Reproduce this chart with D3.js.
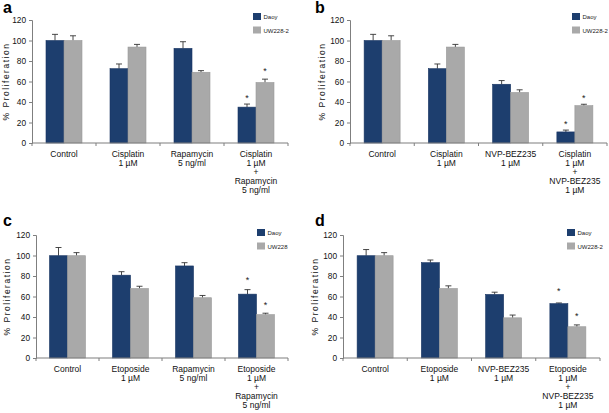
<!DOCTYPE html>
<html><head><meta charset="utf-8">
<script src="https://cdn.jsdelivr.net/npm/d3@7"></script>
<style>body{margin:0;background:#fff}svg{display:block;font-family:"Liberation Sans",Arial,sans-serif}</style>
</head><body><svg id="c" width="609" height="413"></svg>
<script>
// ---- data ----
const yTicks = [0, 20, 40, 60, 80, 100, 120];
const catsA = [["Control"], ["Cisplatin", "1 µM"], ["Rapamycin", "5 ng/ml"], ["Cisplatin", "1 µM", "+", "Rapamycin", "5 ng/ml"]];
const catsB = [["Control"], ["Cisplatin", "1 µM"], ["NVP-BEZ235", "1 µM"], ["Cisplatin", "1 µM", "+", "NVP-BEZ235", "1 µM"]];
const catsC = [["Control"], ["Etoposide", "1 µM"], ["Rapamycin", "5 ng/ml"], ["Etoposide", "1 µM", "+", "Rapamycin", "5 ng/ml"]];
const catsD = [["Control"], ["Etoposide", "1 µM"], ["NVP-BEZ235", "1 µM"], ["Etoposide", "1 µM", "+", "NVP-BEZ235", "1 µM"]];

const daoyA = [100, 72.5, 92.3, 35];     const daoyErrA = [6, 4.6, 6.5, 3];
const uwA   = [100, 93.6, 69, 59];       const uwErrA   = [4.6, 2.6, 1.6, 3.3];
const daoyB = [100, 72.5, 57.3, 10.8];   const daoyErrB = [6, 4.6, 3.6, 1.8];
const uwB   = [100, 93.6, 49.3, 36.4];   const uwErrB   = [4.6, 2.6, 2.6, 1.4];
const daoyC = [99.8, 80.8, 89.8, 62.3];  const daoyErrC = [8, 3.4, 3.2, 4.4];
const uwC   = [99.8, 67.8, 58.8, 42.3];  const uwErrC   = [3, 2.2, 2.2, 1.4];
const daoyD = [99.8, 93, 62, 53];        const daoyErrD = [6, 2.6, 2.2, 0.7];
const uwD   = [99.8, 67.8, 39.2, 30.5];  const uwErrD   = [3, 2.6, 2.7, 1.8];

const starsA = [[3, "daoy", 45], [3, "uw", 71]];
const starsB = [[3, "daoy", 20], [3, "uw", 45]];
const starsC = [[3, "daoy", 77], [3, "uw", 53]];
const starsD = [[3, "daoy", 66], [3, "uw", 42]];

const seriesNamesABD = ["Daoy", "UW228-2"];
const seriesNamesC = ["Daoy", "UW228"];

const COL_DAOY = "#1d3e6e", COL_UW = "#a9a9a9", AXIS = "#7f7f7f";

const panels = [
  {letter: "a", cats: catsA, daoy: daoyA, de: daoyErrA, uw: uwA, ue: uwErrA, stars: starsA, names: seriesNamesABD,
   x0: 32, x1: 288, yTop: 20, yBot: 143, lx: 253, ly: 13, px: 3, py: 13, titleX: 6},
  {letter: "b", cats: catsB, daoy: daoyB, de: daoyErrB, uw: uwB, ue: uwErrB, stars: starsB, names: seriesNamesABD,
   x0: 350, x1: 607, yTop: 20, yBot: 143, lx: 572, ly: 13, px: 315, py: 13, titleX: 322},
  {letter: "c", cats: catsC, daoy: daoyC, de: daoyErrC, uw: uwC, ue: uwErrC, stars: starsC, names: seriesNamesC,
   x0: 36, x1: 288, yTop: 235, yBot: 358, lx: 257, ly: 229, px: 3, py: 226, titleX: 7},
  {letter: "d", cats: catsD, daoy: daoyD, de: daoyErrD, uw: uwD, ue: uwErrD, stars: starsD, names: seriesNamesABD,
   x0: 343, x1: 600, yTop: 235, yBot: 358, lx: 567, ly: 229, px: 315, py: 226, titleX: 315}
];

const svg = d3.select("#c");
const BAR = 18;

panels.forEach(p => {
  const g = svg.append("g");
  const x = d3.scaleBand().domain(d3.range(p.cats.length)).range([p.x0, p.x1]).padding(0);
  const y = d3.scaleLinear().domain([0, 120]).range([p.yBot, p.yTop]);
  const sub = d3.scaleBand().domain(["daoy", "uw"]).range([-BAR, BAR]);

  // panel letter
  g.append("text").attr("x", p.px).attr("y", p.py).attr("font-size", 16).attr("font-weight", "bold")
    .attr("fill", "#000").text(p.letter);

  // y axis
  const ya = g.append("g").attr("transform", `translate(${p.x0},0)`)
    .call(d3.axisLeft(y).tickValues(yTicks).tickSize(3).tickPadding(3));
  ya.select(".domain").attr("stroke", AXIS);
  ya.selectAll(".tick line").attr("stroke", AXIS);
  ya.selectAll(".tick text").attr("font-size", 8.3).attr("fill", "#111").attr("font-family", "Liberation Sans, Arial");

  // y title
  g.append("text").attr("transform", `translate(${p.titleX},${(p.yTop + p.yBot) / 2}) rotate(-90)`)
    .attr("text-anchor", "middle").attr("dominant-baseline", "central")
    .attr("font-size", 8.5).attr("letter-spacing", 1.5).attr("fill", "#111").text("% Proliferation");

  // bars
  const rows = [];
  p.cats.forEach((c, i) => {
    rows.push({i, s: "daoy", v: p.daoy[i], e: p.de[i]});
    rows.push({i, s: "uw", v: p.uw[i], e: p.ue[i]});
  });
  const cx = i => x(i) + x.bandwidth() / 2;

  // error bars (upper only)
  g.selectAll(".err").data(rows).join("path")
    .attr("d", d => {
      const mx = cx(d.i) + sub(d.s) + sub.bandwidth() / 2;
      return `M${mx},${y(d.v)}V${y(d.v + d.e)}M${mx - 3},${y(d.v + d.e)}H${mx + 3}`;
    })
    .attr("stroke", "#333").attr("stroke-width", 0.9).attr("fill", "none");

  g.selectAll(".bar").data(rows).join("rect")
    .attr("x", d => cx(d.i) + sub(d.s))
    .attr("y", d => y(d.v))
    .attr("width", sub.bandwidth())
    .attr("height", d => y(0) - y(d.v))
    .attr("fill", d => d.s === "daoy" ? COL_DAOY : COL_UW)
    .attr("stroke", d => d.s === "daoy" ? "#183462" : "#999")
    .attr("stroke-width", 0.6);

  // x axis line & ticks at boundaries
  g.append("line").attr("x1", p.x0).attr("x2", p.x1).attr("y1", y(0)).attr("y2", y(0))
    .attr("stroke", AXIS).attr("stroke-width", 1.2);
  const bounds = d3.range(p.cats.length + 1).map(i => i < p.cats.length ? x(i) : p.x1);
  g.selectAll(".xt").data(bounds).join("line")
    .attr("x1", d => d).attr("x2", d => d).attr("y1", y(0)).attr("y2", y(0) + 3)
    .attr("stroke", AXIS);

  // category labels
  p.cats.forEach((lines, i) => {
    const t = g.append("text").attr("text-anchor", "middle").attr("font-size", 8.5).attr("fill", "#111");
    lines.forEach((ln, k) => {
      t.append("tspan").attr("x", cx(i)).attr("y", y(0) + 14 + k * 9).text(ln);
    });
  });

  // stars
  g.selectAll(".star").data(p.stars).join("text")
    .attr("x", d => cx(d[0]) + sub(d[1]) + sub.bandwidth() / 2)
    .attr("y", d => y(d[2]) + 4)
    .attr("text-anchor", "middle").attr("font-size", 9).attr("fill", "#222").text("*");

  // legend
  const lg = g.append("g").attr("transform", `translate(${p.lx},${p.ly})`);
  [COL_DAOY, COL_UW].forEach((c, k) => {
    lg.append("rect").attr("x", 0).attr("y", k * 13.5).attr("width", 8).attr("height", 7).attr("fill", c);
    lg.append("text").attr("x", 10.5).attr("y", k * 13.5 + 6).attr("font-size", 6).attr("fill", "#222")
      .text(p.names[k]);
  });
});
</script></body></html>
